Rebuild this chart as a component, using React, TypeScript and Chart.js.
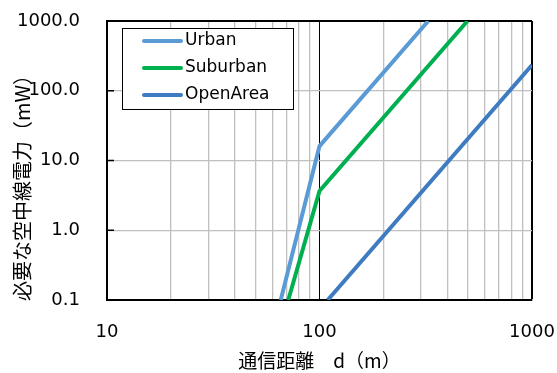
import React, { useEffect, useRef } from "react";
import { Chart, registerables } from "chart.js";

Chart.register(...registerables);

const seriesNames = ["Urban", "Suburban", "OpenArea"];
const urbanPoints = [
  { x: 65.7, y: 0.1 },
  { x: 100, y: 16.1 },
  { x: 325, y: 1000 },
];
const suburbanPoints = [
  { x: 71.3, y: 0.1 },
  { x: 100, y: 3.65 },
  { x: 497, y: 1000 },
];
const openAreaPoints = [
  { x: 109.3, y: 0.1 },
  { x: 1000, y: 234 },
];
const seriesColors = ["#5B9BD5", "#00B050", "#3F7BC1"];
const xTicks = [10, 20, 30, 40, 50, 60, 70, 80, 90, 100, 200, 300, 400, 500, 600, 700, 800, 900, 1000];
const xTickLabels = [10, 100, 1000];
const yTicks = [0.1, 1, 10, 100, 1000];
const xTitle = "通信距離　d（m）";
const yTitle = "必要な空中線電力（mW）";

const LATIN = "'DejaVu Sans', sans-serif";
const CJK = "'Noto Sans CJK JP', sans-serif";

const decorPlugin = {
  id: "decor",
  afterDraw(chart: any) {
    const { ctx, chartArea, scales } = chart;
    const ys = scales.y;
    const xs = scales.x;
    ctx.save();
    ctx.strokeStyle = "#000";
    ctx.lineWidth = 1.5;
    for (const v of [1, 10, 100]) {
      const py = ys.getPixelForValue(v);
      ctx.beginPath();
      ctx.moveTo(chartArea.left, py);
      ctx.lineTo(chartArea.left + 7, py);
      ctx.stroke();
    }
    // tick labels
    ctx.fillStyle = "#000";
    ctx.font = "18px " + LATIN;
    ctx.textBaseline = "middle";
    ctx.textAlign = "right";
    for (const v of yTicks) {
      ctx.fillText(v.toFixed(1), chartArea.left - 27, ys.getPixelForValue(v));
    }
    ctx.textAlign = "center";
    for (const v of xTickLabels) {
      ctx.fillText(String(v), xs.getPixelForValue(v), chartArea.bottom + 32);
    }
    // legend
    const lx = 122, ly = 28, lw = 171, lh = 81;
    ctx.fillStyle = "#fff";
    ctx.fillRect(lx, ly, lw, lh);
    ctx.strokeStyle = "#000";
    ctx.lineWidth = 1;
    ctx.strokeRect(lx + 0.5, ly + 0.5, lw, lh);
    ctx.font = "17px " + LATIN;
    ctx.textBaseline = "middle";
    ctx.textAlign = "left";
    seriesNames.forEach((name, i) => {
      const ry = 41 + i * 27;
      ctx.strokeStyle = seriesColors[i];
      ctx.lineWidth = 4;
      ctx.lineCap = "round";
      ctx.beginPath();
      ctx.moveTo(144, ry);
      ctx.lineTo(181, ry);
      ctx.stroke();
      ctx.fillStyle = "#000";
      ctx.fillText(name, 185, ry);
    });
    // titles
    ctx.fillStyle = "#000";
    ctx.font = "19px " + CJK;
    ctx.textAlign = "center";
    ctx.textBaseline = "middle";
    ctx.fillText(xTitle, (chartArea.left + chartArea.right) / 2, 361);
    ctx.save();
    ctx.translate(22, 183);
    ctx.rotate(-Math.PI / 2);
    ctx.font = "20px " + CJK;
    ctx.fillText(yTitle, 0, 0);
    ctx.restore();
    ctx.restore();
  },
};

export default function App() {
  const ref = useRef<HTMLCanvasElement>(null);
  useEffect(() => {
    document.body.style.margin = "0";
    const mk = (label: string, data: any[], color: string) => ({
      label,
      data,
      borderColor: color,
      backgroundColor: color,
      borderWidth: 4,
      pointRadius: 0,
      tension: 0,
    });
    const chart = new Chart(ref.current as HTMLCanvasElement, {
      type: "line",
      data: {
        datasets: [
          mk(seriesNames[0], urbanPoints, seriesColors[0]),
          mk(seriesNames[1], suburbanPoints, seriesColors[1]),
          mk(seriesNames[2], openAreaPoints, seriesColors[2]),
        ],
      },
      plugins: [decorPlugin],
      options: {
        animation: false,
        responsive: false,
        events: [],
        layout: { padding: { left: 0, top: 21, right: 25, bottom: 0 } },
        plugins: { legend: { display: false }, tooltip: { enabled: false } },
        scales: {
          x: {
            type: "logarithmic",
            min: 10,
            max: 1000,
            afterBuildTicks: (s: any) => {
              s.ticks = xTicks.map((v) => ({ value: v }));
            },
            afterFit: (s: any) => {
              s.height = 73;
            },
            ticks: { display: false },
            grid: {
              drawTicks: false,
              color: (c: any) => {
                const v = c.tick && c.tick.value;
                if (v === 100 || v === 1000) return "#000";
                return "#C0C0C0";
              },
              lineWidth: (c: any) => {
                const v = c.tick && c.tick.value;
                if (v === 1000) return 2;
                if (v === 100) return 1;
                return 1.3;
              },
            },
            border: { display: true, color: "#000", width: 2 },
          },
          y: {
            type: "logarithmic",
            min: 0.1,
            max: 1000,
            afterBuildTicks: (s: any) => {
              s.ticks = yTicks.map((v) => ({ value: v }));
            },
            afterFit: (s: any) => {
              s.width = 107;
            },
            ticks: { display: false },
            grid: {
              drawTicks: false,
              color: (c: any) => {
                const v = c.tick && c.tick.value;
                if (v === 1000) return "#000";
                return "#C0C0C0";
              },
              lineWidth: (c: any) => {
                const v = c.tick && c.tick.value;
                if (v === 1000) return 2;
                return 1.3;
              },
            },
            border: { display: true, color: "#000", width: 2 },
          },
        },
      },
    } as any);
    return () => chart.destroy();
  }, []);
  return (
    <div style={{ width: 557, height: 373 }}>
      <canvas ref={ref} width={557} height={373} style={{ display: "block" }} />
    </div>
  );
}
